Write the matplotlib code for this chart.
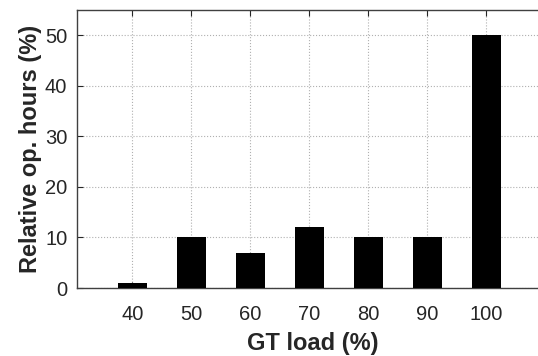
import matplotlib
matplotlib.use("Agg")
import matplotlib.pyplot as plt

# GT load bins and share of operating hours
gt_load = [40, 50, 60, 70, 80, 90, 100]
rel_hours = [1, 10, 7, 12, 10, 10, 50]

plt.rcParams["font.family"] = ["Liberation Sans", "DejaVu Sans"]

fig = plt.figure(figsize=(5.38, 3.56), dpi=100)
# axes runs past the right edge like the cropped original
ax = fig.add_axes([77 / 538, 1 - 288 / 356, 472 / 538, 278 / 356])

ax.bar(gt_load, rel_hours, width=5, color="black", zorder=3)

ax.set_xlim(30.6, 110.6)
ax.set_ylim(0, 55)
ax.set_xticks(gt_load)
ax.set_yticks([0, 10, 20, 30, 40, 50])

ax.grid(True, linestyle=":", color="#b0b0b0", linewidth=0.8, zorder=0)
ax.tick_params(direction="in", top=True, right=True, labelsize=14.5,
               colors="#262626", length=4)
ax.tick_params(axis="x", pad=12)
ax.tick_params(axis="y", pad=7)
for s in ax.spines.values():
    s.set_color("#404040")
    s.set_linewidth(1.0)

ax.set_xlabel("GT load (%)", fontsize=17, fontweight="bold", color="#262626",
              labelpad=6)
ax.set_ylabel("Relative op. hours (%)", fontsize=17, fontweight="bold",
              color="#262626", labelpad=2)

fig.savefig("out.png", dpi=100)
